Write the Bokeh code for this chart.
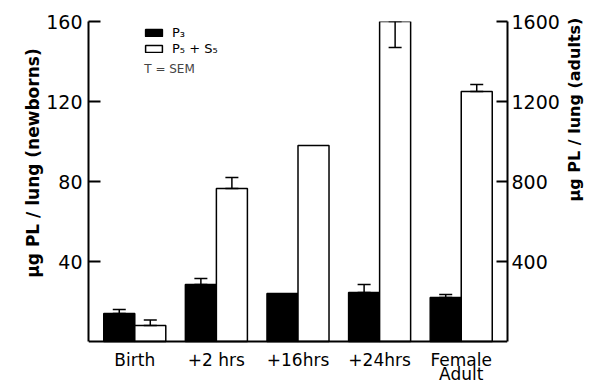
import math
from bokeh.plotting import figure
from bokeh.models import (ColumnDataSource, FactorRange, Range1d, LinearAxis,
                          FixedTicker, Whisker, TeeHead, Label, LabelSet, Span)
from bokeh.core.properties import value
from bokeh.transform import dodge
from bokeh.embed import file_html
from bokeh.resources import INLINE

# ---- data (left-axis units; right axis = 10x) ----
categories = ["Birth", "+2 hrs", "+16hrs", "+24hrs", "Female Adult"]
tick_line1 = ["Birth", "+2 hrs", "+16hrs", "+24hrs", "Female"]
tick_line2 = ["", "", "", "", "Adult"]
p3_values = [14, 28.5, 24, 24.5, 22]
p3_sem = [2, 3, 0, 4, 1.5]
p5s5_values = [8, 76.5, 98, 160, 125]
p5s5_sem = [2.7, 5.5, 0, -13, 3.5]   # negative: bar drawn downward
left_ticks = [40, 80, 120, 160]
right_ticks = [400, 800, 1200, 1600]

FONT = "DejaVu Sans"
OFF = 0.19
BW = 0.38
PAD = "\u00a0" * 13

src = ColumnDataSource(dict(cat=categories, p3=p3_values, p5=p5s5_values))

p = figure(width=596, height=381, output_backend="svg", toolbar_location=None,
           x_axis_location=None,
           x_range=FactorRange(factors=categories, range_padding=0.067,
                               range_padding_units="absolute"),
           y_range=Range1d(-20, 160),
           min_border_left=88, min_border_right=87,
           min_border_top=21, min_border_bottom=0)
p.extra_y_ranges = {"adult": Range1d(-200, 1600)}

p.vbar(x=dodge("cat", -OFF, range=p.x_range), top="p3", width=BW, source=src,
       fill_color="black", line_color="black", line_width=1.5, legend_label="P\u2083")
p.vbar(x=dodge("cat", OFF, range=p.x_range), top="p5", width=BW, source=src,
       fill_color="white", line_color="black", line_width=1.5,
       legend_label="P\u2085 + S\u2085")

def add_err(values, sems, offset):
    cats, lo, up = [], [], []
    for c, v, s in zip(categories, values, sems):
        if s == 0:
            continue
        cats.append(c)
        lo.append(min(v, v + s))
        up.append(max(v, v + s))
    wsrc = ColumnDataSource(dict(cat=cats, lo=lo, up=up))
    w = Whisker(source=wsrc, base=dodge("cat", offset, range=p.x_range),
                lower="lo", upper="up", dimension="height", line_width=1.5,
                line_color="black", level="overlay",
                lower_head=TeeHead(size=13, line_width=1.5, line_color="black"),
                upper_head=TeeHead(size=13, line_width=1.5, line_color="black"))
    p.add_layout(w)

add_err(p3_values, p3_sem, -OFF)
add_err(p5s5_values, p5s5_sem, OFF)

p.xgrid.visible = False
p.ygrid.visible = False
p.outline_line_color = None

# x axis line (baseline at zero) and category labels
p.add_layout(Span(location=0, dimension="width", line_color="black",
                  line_width=2))
lab_src = ColumnDataSource(dict(cat=categories, l1=tick_line1, l2=tick_line2))
p.add_layout(LabelSet(x="cat", y=-4.25, text="l1", source=lab_src,
                      text_font=value(FONT), text_font_size=value("17px"),
                      text_color="black",
                      text_align="center", text_baseline="top"))
p.add_layout(LabelSet(x="cat", y=-11, text="l2", source=lab_src,
                      text_font=value(FONT), text_font_size=value("17px"),
                      text_color="black",
                      text_align="center", text_baseline="top"))

def style_y(ax, tick_in):
    ax.major_tick_in = tick_in
    ax.major_tick_out = 0
    ax.minor_tick_line_color = None
    ax.axis_line_width = 2
    ax.major_tick_line_width = 2
    ax.major_label_text_font = FONT
    ax.major_label_text_font_size = "19px"
    ax.major_label_text_color = "black"
    ax.axis_label_text_font = FONT
    ax.axis_label_text_font_size = "17px"
    ax.axis_label_text_font_style = "bold"
    ax.axis_label_text_color = "black"

ya = p.yaxis[0]
ya.ticker = FixedTicker(ticks=left_ticks)
ya.bounds = (0, 160)
style_y(ya, 12)
ya.major_label_standoff = 6
ya.axis_label = PAD + "\u03bcg PL / lung (newborns)"
ya.axis_label_standoff = 0

ra = LinearAxis(y_range_name="adult", ticker=FixedTicker(ticks=right_ticks),
                bounds=(0, 1600))
style_y(ra, 11)
ra.major_label_standoff = 4
ra.axis_label = "\u03bcg PL / lung (adults)"
ra.axis_label_text_font_size = "16px"
ra.axis_label_standoff = 12
ra.axis_label_orientation = math.pi / 2
p.add_layout(ra, "right")

# legend
lg = p.legend[0]
lg.location = (55, 325)
lg.padding = 0
lg.margin = 0
lg.spacing = 0
lg.border_line_color = None
lg.background_fill_alpha = 0
lg.glyph_width = 21
lg.glyph_height = 9
lg.label_height = 16
lg.label_standoff = 8
lg.label_text_font = FONT
lg.label_text_font_size = "13px"
lg.label_text_color = "black"

p.add_layout(Label(x=0.616, y=136.5, text="T = SEM", text_font=FONT,
                   text_font_size="12px", text_baseline="middle"))

open("out.html", "w").write(file_html(p, INLINE))
